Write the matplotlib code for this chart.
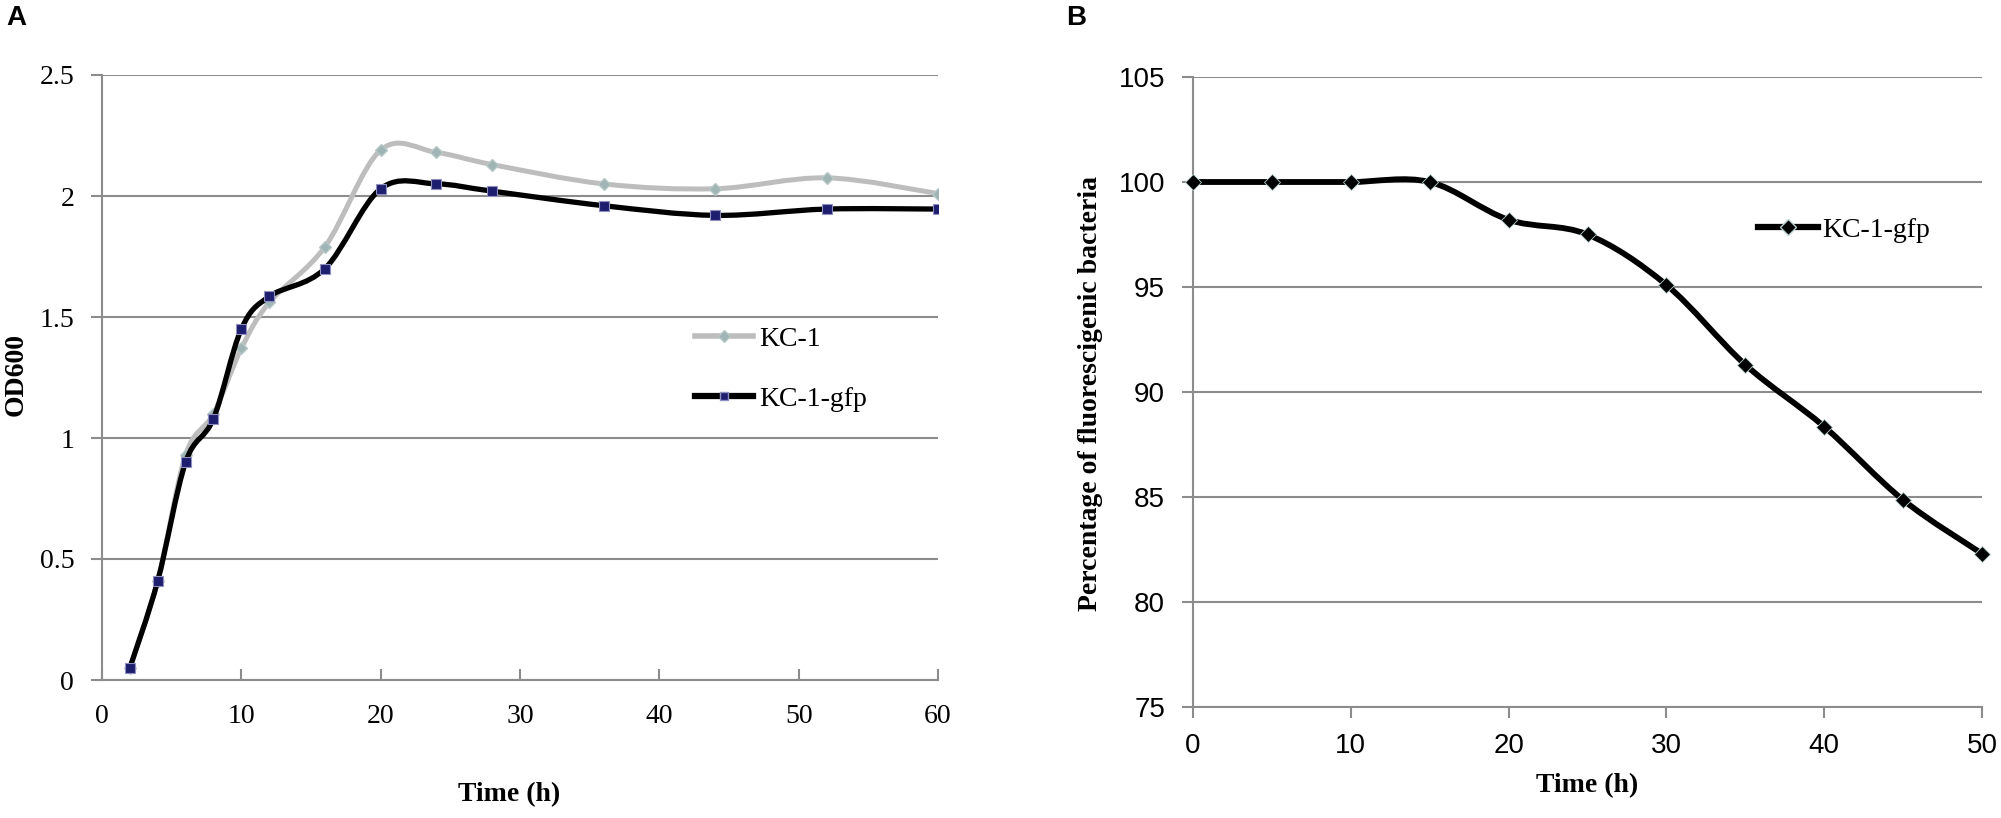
import numpy as np
import matplotlib
matplotlib.use("Agg")
import matplotlib.pyplot as plt
from matplotlib.path import Path
from matplotlib.patches import PathPatch
from matplotlib.lines import Line2D

# panel A: growth curves
time_a = [2, 4, 6, 8, 10, 12, 16, 20, 24, 28, 36, 44, 52, 60]
od_kc1 = [0.05, 0.41, 0.93, 1.10, 1.37, 1.56, 1.79, 2.19, 2.18, 2.13, 2.05, 2.03, 2.075, 2.01]
od_gfp = [0.05, 0.41, 0.90, 1.08, 1.45, 1.585, 1.70, 2.03, 2.05, 2.02, 1.96, 1.92, 1.946, 1.946]

# panel B: fluorescence retention
time_b = [0, 5, 10, 15, 20, 25, 30, 35, 40, 45, 50]
pct_gfp = [100, 100, 100, 100, 98.2, 97.5, 95.1, 91.3, 88.35, 84.86, 82.3]

SERIF = "Liberation Serif"
SANS = "Liberation Sans"
GRID = "#8c8c8c"


def smooth_path(x, y):
    # excel-like smoothed line through the data points
    pts = np.column_stack([x, y]).astype(float)
    n = len(pts)
    verts = [pts[0]]
    codes = [Path.MOVETO]
    for i in range(n - 1):
        p0 = pts[i - 1] if i > 0 else pts[i]
        p1 = pts[i]
        p2 = pts[i + 1]
        p3 = pts[i + 2] if i + 2 < n else pts[i + 1]
        verts += [p1 + (p2 - p0) / 6, p2 - (p3 - p1) / 6, p2]
        codes += [Path.CURVE4] * 3
    return Path(verts, codes)


def style_axes(ax):
    for s in ["top", "right"]:
        ax.spines[s].set_visible(False)
    for s in ["left", "bottom"]:
        ax.spines[s].set_color(GRID)
        ax.spines[s].set_linewidth(1.5)
    ax.grid(axis="y", color=GRID, linewidth=1.5)
    ax.set_axisbelow(True)


fig = plt.figure(figsize=(20.01, 8.18), dpi=100)

# ---- A ----
axa = fig.add_axes([102 / 2001, 1 - 680 / 818, 836 / 2001, 605 / 818])
style_axes(axa)
axa.set_xlim(0, 60)
axa.set_ylim(0, 2.5)
axa.set_xticks(range(0, 61, 10))
axa.set_yticks([0, 0.5, 1, 1.5, 2, 2.5])
axa.set_yticklabels(["0", "0.5", "1", "1.5", "2", "2.5"])
axa.tick_params(axis="x", direction="in", length=8, width=1.5, color=GRID, pad=17)
axa.tick_params(axis="y", direction="out", length=8, width=1.5, color=GRID, pad=12)
for lab in axa.get_xticklabels() + axa.get_yticklabels():
    lab.set_fontfamily(SERIF)
    lab.set_fontsize(20)

axa.add_patch(PathPatch(smooth_path(time_a, od_kc1), fill=False, edgecolor="#bdbdbd",
                        linewidth=3.6, capstyle="round", zorder=2))
axa.plot(time_a, od_kc1, ls="none", marker="D", markersize=6, color="#9fb4b4",
         markeredgecolor="#b8c8c8", zorder=3)
axa.add_patch(PathPatch(smooth_path(time_a, od_gfp), fill=False, edgecolor="black",
                        linewidth=3.8, capstyle="round", zorder=4))
axa.plot(time_a, od_gfp, ls="none", marker="s", markersize=6.5, color="#1e1e6e",
         markeredgecolor="#9090c0", markeredgewidth=0.8, zorder=5)

axa.set_xlabel("Time (h)", fontfamily=SERIF, fontweight="bold", fontsize=20)
axa.xaxis.set_label_coords(0.487, -0.19)
axa.xaxis.label.set_verticalalignment("center")
axa.set_ylabel("OD600", fontfamily=SERIF, fontweight="bold", fontsize=20)
axa.yaxis.set_label_coords(-0.103, 0.505)
axa.yaxis.label.set_verticalalignment("center")

h1 = Line2D([], [], color="#bdbdbd", linewidth=4, marker="D", markersize=6,
            markerfacecolor="#9fb4b4", markeredgecolor="#b8c8c8")
h2 = Line2D([], [], color="black", linewidth=4.5, marker="s", markersize=6,
            markerfacecolor="#1e1e6e", markeredgecolor="#9090c0")
fig.legend([h1, h2], ["KC-1", "KC-1-gfp"], loc="center left",
           bbox_to_anchor=(695 / 2001, 1 - 369 / 818), bbox_transform=fig.transFigure,
           frameon=False, borderpad=0, borderaxespad=0, numpoints=1,
           handlelength=2.1, handletextpad=0.2, labelspacing=1.25,
           prop={"family": SERIF, "size": 20})

# ---- B ----
axb = fig.add_axes([1193 / 2001, 1 - 707 / 818, 789 / 2001, 630 / 818])
style_axes(axb)
axb.set_xlim(0, 50)
axb.set_ylim(75, 105)
axb.set_xticks(range(0, 51, 10))
axb.set_yticks(range(75, 106, 5))
axb.tick_params(axis="both", direction="out", length=8, width=1.5, color=GRID)
axb.tick_params(axis="x", pad=11)
axb.tick_params(axis="y", pad=12)
for lab in axb.get_xticklabels() + axb.get_yticklabels():
    lab.set_fontfamily(SANS)
    lab.set_fontsize(20)

axb.add_patch(PathPatch(smooth_path(time_b, pct_gfp), fill=False, edgecolor="black",
                        linewidth=4.2, capstyle="round", zorder=3))
axb.plot(time_b, pct_gfp, ls="none", marker="D", markersize=8.5, color="black",
         markeredgecolor="#b8d0d0", markeredgewidth=0.6, zorder=4, clip_on=False)

axb.set_xlabel("Time (h)", fontfamily=SERIF, fontweight="bold", fontsize=20)
axb.xaxis.set_label_coords(0.499, -0.124)
axb.xaxis.label.set_verticalalignment("center")
axb.set_ylabel("Percentage of fluorescigenic bacteria", fontfamily=SERIF,
               fontweight="bold", fontsize=20)
axb.yaxis.set_label_coords(-0.1305, 0.497)
axb.yaxis.label.set_verticalalignment("center")

h3 = Line2D([], [], color="black", linewidth=4.5, marker="D", markersize=8.5,
            markerfacecolor="black", markeredgecolor="#b8d0d0")
fig.legend([h3], ["KC-1-gfp"], loc="center left",
           bbox_to_anchor=(1758 / 2001, 1 - 230 / 818), bbox_transform=fig.transFigure,
           frameon=False, borderpad=0, borderaxespad=0, numpoints=1,
           handlelength=2.15, handletextpad=0.15, prop={"family": SERIF, "size": 20})

# panel letters
fig.text(6 / 2001, 1 - 5 / 818, "A", fontfamily=SANS, fontweight="bold", fontsize=20, va="top")
fig.text(1066 / 2001, 1 - 5 / 818, "B", fontfamily=SANS, fontweight="bold", fontsize=20, va="top")

fig.savefig("out.png", dpi=100)
